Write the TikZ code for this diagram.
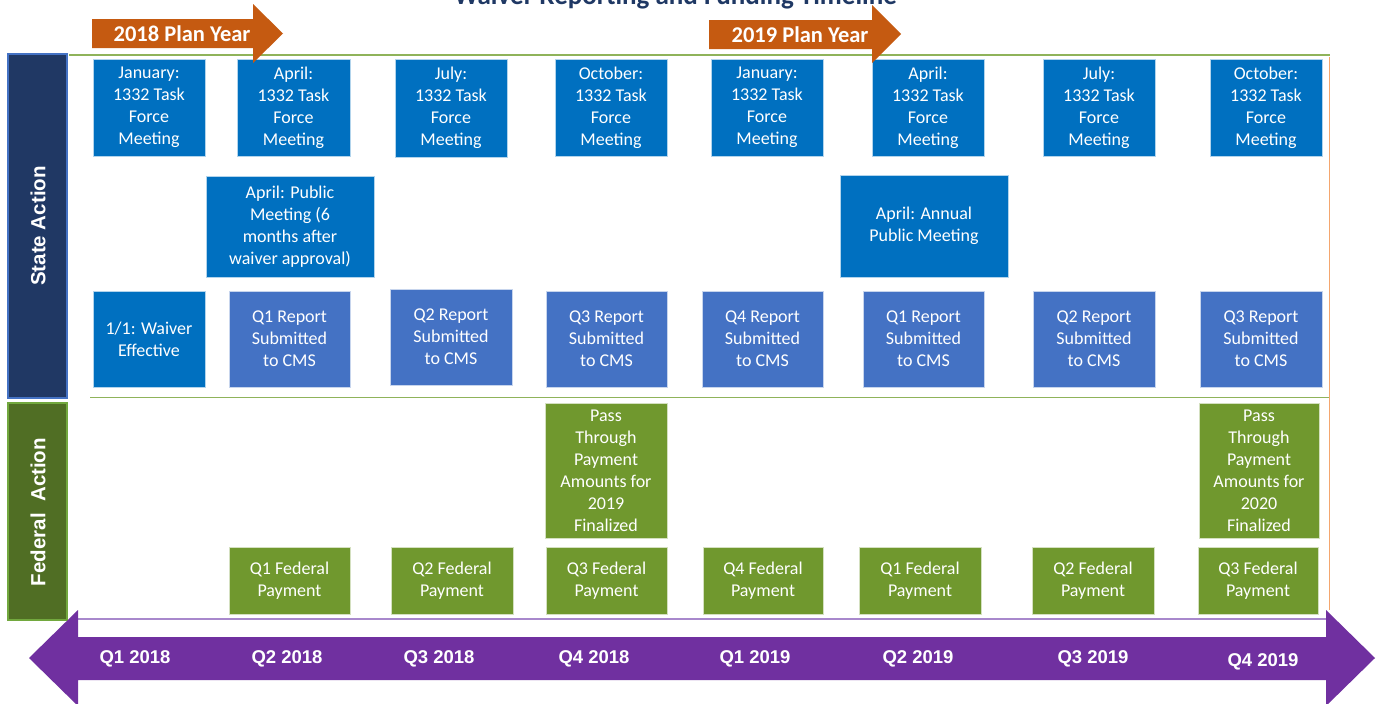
\documentclass[tikz,border=0pt]{standalone}
\usepackage{fontspec}
\setmainfont{Carlito}
\newfontfamily\lsans{Liberation Sans}
\definecolor{tfblue}{HTML}{0070C0}
\definecolor{rpblue}{HTML}{4472C4}
\definecolor{fgreen}{HTML}{70982E}
\definecolor{navybar}{HTML}{203864}
\definecolor{navyedge}{HTML}{4472C4}
\definecolor{fedbar}{HTML}{506E24}
\definecolor{fededge}{HTML}{72A83E}
\definecolor{orarrow}{HTML}{C55A11}
\definecolor{purp}{HTML}{7030A0}
\definecolor{titlenavy}{HTML}{1F3864}
\definecolor{linegreen}{HTML}{8FB35A}
\definecolor{lineorange}{HTML}{F4A66E}
\definecolor{linepurp}{HTML}{A888CC}
\begin{document}
\begin{tikzpicture}[x=1pt,y=-1pt,
  box/.style={rectangle, inner sep=0pt, text=white, align=center,
    font=\fontsize{18}{22}\selectfont, draw=white!70!#1, fill=#1, line width=0.6pt},
  tf/.style={box=tfblue, minimum width=112pt, minimum height=97pt},
  rp/.style={box=rpblue, minimum width=121pt, minimum height=96pt},
  fp/.style={box=fgreen, minimum width=121pt, minimum height=67pt},
  pt/.style={box=fgreen, minimum width=121pt, minimum height=135pt},
  pub/.style={box=tfblue, minimum width=168pt, minimum height=101pt},
  sidelabel/.style={text=white, rotate=90, font=\lsans\bfseries\fontsize{20.5}{24}\selectfont},
  qlabel/.style={text=white, font=\lsans\bfseries\fontsize{18.5}{22}\selectfont},
  pylabel/.style={text=white, font=\bfseries\fontsize{22.5}{26}\selectfont},
  sepline/.style={line width=1.5pt}
]
\useasboundingbox (0,0) rectangle (1385,704);
\fill[white] (0,0) rectangle (1385,704);

% title (cut at top)
\node[anchor=base, text=titlenavy, font=\bfseries\fontsize{27}{32}\selectfont, inner sep=0pt] (title) at (675.5,5) {Waiver Reporting and Funding Timeline};

% guide lines
\draw[sepline, linegreen] (69,55) -- (1330,55);
\draw[sepline, linegreen] (90,397.5) -- (1329,397.5);
\draw[sepline, lineorange] (1329.5,57) -- (1329.5,610);
\draw[sepline, linepurp] (78,619) -- (1326,619);

% side bars
\draw[fill=navybar, draw=navyedge, line width=1.5pt] (8,54) rectangle (67,398);
\node[sidelabel] (state) at (38,226) {State Action};
\draw[fill=fedbar, draw=fededge, line width=1.5pt] (8,403) rectangle (67,620);
\node[sidelabel] (federal) at (38,512) {Federal\ \ Action};

% row 1: task force meetings
\node[tf] (jan18) at (149,107.5) {January:\\1332 Task\\Force\\Meeting};
\node[tf, minimum width=113pt] (apr18) at (293.5,107.5) {April:\\1332 Task\\Force\\Meeting};
\node[tf, minimum height=98pt] (jul18) at (451,108) {July:\\1332 Task\\Force\\Meeting};
\node[tf] (oct18) at (611,107.5) {October:\\1332 Task\\Force\\Meeting};
\node[tf] (jan19) at (767,107.5) {January:\\1332 Task\\Force\\Meeting};
\node[tf] (apr19) at (928,107.5) {April:\\1332 Task\\Force\\Meeting};
\node[tf] (jul19) at (1099,107.5) {July:\\1332 Task\\Force\\Meeting};
\node[tf] (oct19) at (1266,107.5) {October:\\1332 Task\\Force\\Meeting};

% row 2: public meetings
\node[pub] (pub18) at (290,226.5) {April: Public\\Meeting (6\\months after\\waiver approval)};
\node[pub, minimum height=102pt] (pub19) at (924,226) {April: Annual\\Public Meeting};

% row 3: reports
\node[tf, minimum height=96pt] (waiver) at (149,339) {1/1: Waiver\\Effective};
\node[rp] (q1r18) at (289.5,339) {Q1 Report\\Submitted\\to CMS};
\node[rp, minimum width=122pt] (q2r18) at (451,337) {Q2 Report\\Submitted\\to CMS};
\node[rp] (q3r18) at (606.5,339) {Q3 Report\\Submitted\\to CMS};
\node[rp] (q4r18) at (762.5,339) {Q4 Report\\Submitted\\to CMS};
\node[rp] (q1r19) at (923.5,339) {Q1 Report\\Submitted\\to CMS};
\node[rp, minimum width=122pt] (q2r19) at (1094,339) {Q2 Report\\Submitted\\to CMS};
\node[rp, minimum width=122pt] (q3r19) at (1261,339) {Q3 Report\\Submitted\\to CMS};

% federal: pass-through
\node[pt, minimum width=122pt] (pt19) at (606,470.5) {Pass\\Through\\Payment\\Amounts for\\2019\\Finalized};
\node[pt, minimum width=120pt] (pt20) at (1259,470.5) {Pass\\Through\\Payment\\Amounts for\\2020\\Finalized};

% federal payments
\node[fp] (q1f18) at (289.5,580.5) {Q1 Federal\\Payment};
\node[fp, minimum width=122pt] (q2f18) at (452,580.5) {Q2 Federal\\Payment};
\node[fp] (q3f18) at (606.5,580.5) {Q3 Federal\\Payment};
\node[fp, minimum width=120pt] (q4f18) at (763,580.5) {Q4 Federal\\Payment};
\node[fp, minimum width=122pt] (q1f19) at (920,580.5) {Q1 Federal\\Payment};
\node[fp, minimum width=122pt] (q2f19) at (1093,580.5) {Q2 Federal\\Payment};
\node[fp, minimum width=120pt] (q3f19) at (1258,580.5) {Q3 Federal\\Payment};

% plan year arrows
\fill[orarrow] (92,19) -- (253,19) -- (253,4) -- (283,33.5) -- (253,63) -- (253,48) -- (92,48) -- cycle;
\node[pylabel] (py18) at (182,34) {2018 Plan Year};
\fill[orarrow] (709,20) -- (872,20) -- (872,5) -- (901,34) -- (872,63) -- (872,49) -- (709,49) -- cycle;
\node[pylabel] (py19) at (800,35) {2019 Plan Year};

% bottom timeline arrow
\fill[purp] (29,658) -- (78,610) -- (78,637) -- (1326,637) -- (1326,610) -- (1375,658)
  -- (1326,706) -- (1326,680) -- (78,680) -- (78,706) -- cycle;
\node[qlabel] (q118) at (135,659) {Q1 2018};
\node[qlabel] (q218) at (287,659) {Q2 2018};
\node[qlabel] (q318) at (439,659) {Q3 2018};
\node[qlabel] (q418) at (594,659) {Q4 2018};
\node[qlabel] (q119) at (755,659) {Q1 2019};
\node[qlabel] (q219) at (918,659) {Q2 2019};
\node[qlabel] (q319) at (1093,659) {Q3 2019};
\node[qlabel] (q419) at (1263,662) {Q4 2019};
\end{tikzpicture}
\end{document}
